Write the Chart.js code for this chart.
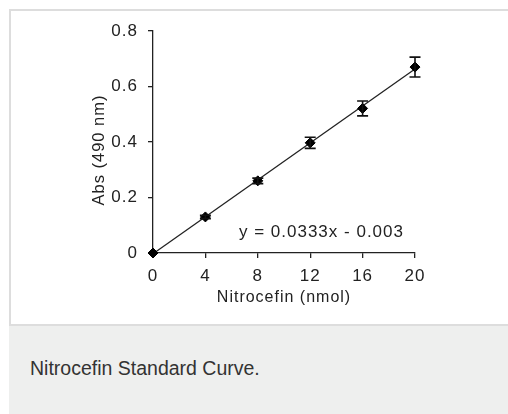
<!DOCTYPE html>
<html>
<head>
<meta charset="utf-8">
<script src="https://cdn.jsdelivr.net/npm/chart.js@4.4.1/dist/chart.umd.min.js"></script>
<style>
  html, body { margin: 0; padding: 0; background: #ffffff; width: 508px; height: 414px; overflow: hidden; }
  #panel { position: absolute; left: 9px; top: 9px; width: 510px; height: 313px; border: 2px solid #dddddd; background: #ffffff; }
  #caption { position: absolute; left: 9px; top: 326px; width: 520px; height: 100px; background: #eeefee; }
  #caption span { position: absolute; left: 21px; top: 31px; font-family: "Liberation Sans", Arial, sans-serif; font-size: 19.5px; color: #333333; }
  #cv { position: absolute; left: 10px; top: 10px; }
</style>
</head>
<body>
<div id="panel"></div>
<div id="caption"><span>Nitrocefin Standard Curve.</span></div>
<canvas id="cv" width="498" height="313" style="width:498px;height:313px"></canvas>
<script>
// ---- data ----
const xValues   = [0, 4, 8, 12, 16, 20];              // Nitrocefin (nmol)
const absValues = [0, 0.13, 0.26, 0.397, 0.521, 0.670]; // Abs (490 nm)
const errValues = [0, 0.006, 0.010, 0.020, 0.027, 0.036];
const trendX = [0, 20];
const trendY = [-0.003, 0.663];                       // y = 0.0333x - 0.003
const xTicks = [0, 4, 8, 12, 16, 20];
const yTicks = [0, 0.2, 0.4, 0.6, 0.8];
const equationText = 'y = 0.0333x - 0.003';
const xTitle = 'Nitrocefin (nmol)';
const yTitle = 'Abs (490 nm)';

const FONT = '"Liberation Sans", Arial, sans-serif';
const INK = '#222222';

const spacingPlugin = {
  id: 'spacing',
  beforeDraw(chart) { chart.ctx.letterSpacing = '1px'; }
};

const errorBarPlugin = {
  id: 'errorBars',
  afterDatasetsDraw(chart) {
    const ctx = chart.ctx;
    const xs = chart.scales.x, ys = chart.scales.y;
    ctx.save();
    ctx.strokeStyle = '#111111';
    ctx.lineWidth = 1.6;
    xValues.forEach((xv, i) => {
      const e = errValues[i];
      if (!e) return;
      const px = xs.getPixelForValue(xv);
      const top = ys.getPixelForValue(absValues[i] + e);
      const bot = ys.getPixelForValue(absValues[i] - e);
      ctx.beginPath();
      ctx.moveTo(px, top); ctx.lineTo(px, bot);
      ctx.moveTo(px - 5.5, top); ctx.lineTo(px + 5.5, top);
      ctx.moveTo(px - 5.5, bot); ctx.lineTo(px + 5.5, bot);
      ctx.stroke();
    });
    ctx.restore();
  }
};

const textPlugin = {
  id: 'texts',
  afterDatasetsDraw(chart) {
    const ctx = chart.ctx;
    const xs = chart.scales.x, ys = chart.scales.y;
    ctx.save();
    ctx.letterSpacing = '1px';
    ctx.font = '17px ' + FONT;
    ctx.fillStyle = INK;
    ctx.textAlign = 'center';
    ctx.textBaseline = 'alphabetic';
    ctx.fillText(equationText, xs.getPixelForValue(12.86), ys.getPixelForValue(0.0566));
    // y-axis title, rotated
    ctx.font = '16.5px ' + FONT;
    ctx.textBaseline = 'middle';
    ctx.translate(89, (chart.chartArea.top + chart.chartArea.bottom) / 2 + 8);
    ctx.rotate(-Math.PI / 2);
    ctx.fillText(yTitle, 0, 0);
    ctx.restore();
  }
};

new Chart(document.getElementById('cv'), {
  type: 'scatter',
  data: {
    datasets: [
      {
        label: 'Trend',
        type: 'line',
        data: trendX.map((x, i) => ({ x: x, y: trendY[i] })),
        borderColor: '#222222',
        borderWidth: 1.3,
        pointRadius: 0,
        fill: false,
        clip: false,
        order: 2
      },
      {
        label: 'Abs',
        data: xValues.map((x, i) => ({ x: x, y: absValues[i] })),
        pointStyle: 'rectRot',
        pointRadius: 5,
        backgroundColor: '#000000',
        borderColor: '#000000',
        borderWidth: 1,
        clip: false,
        order: 1
      }
    ]
  },
  options: {
    responsive: false,
    animation: false,
    devicePixelRatio: 1,
    layout: { padding: { left: 77, right: 93, top: 21, bottom: 0 } },
    plugins: { legend: { display: false }, tooltip: { enabled: false } },
    scales: {
      x: {
        type: 'linear',
        min: 0, max: 20,
        afterBuildTicks(s) { s.ticks = xTicks.map(v => ({ value: v })); },
        afterFit(s) { s.height = 70; },
        border: { display: true, color: '#222222', width: 1.3 },
        grid: { display: true, drawOnChartArea: false, drawTicks: true, tickLength: 5, color: '#222222', lineWidth: 1.3 },
        ticks: { font: { family: FONT, size: 17 }, color: INK, padding: 8, maxRotation: 0 },
        title: { display: true, text: xTitle, font: { family: FONT, size: 16 }, color: INK, padding: { top: 0, bottom: 16 } }
      },
      y: {
        type: 'linear',
        min: 0, max: 0.8,
        afterBuildTicks(s) { s.ticks = yTicks.map(v => ({ value: v })); },
        afterFit(s) { s.width = 66; },
        border: { display: true, color: '#222222', width: 1.3 },
        grid: { display: true, drawOnChartArea: false, drawTicks: true, tickLength: 5, color: '#222222', lineWidth: 1.3 },
        ticks: { font: { family: FONT, size: 17 }, color: INK, padding: 10, callback: v => String(v) },
        title: { display: false }
      }
    }
  },
  plugins: [spacingPlugin, errorBarPlugin, textPlugin]
});
</script>
</body>
</html>
